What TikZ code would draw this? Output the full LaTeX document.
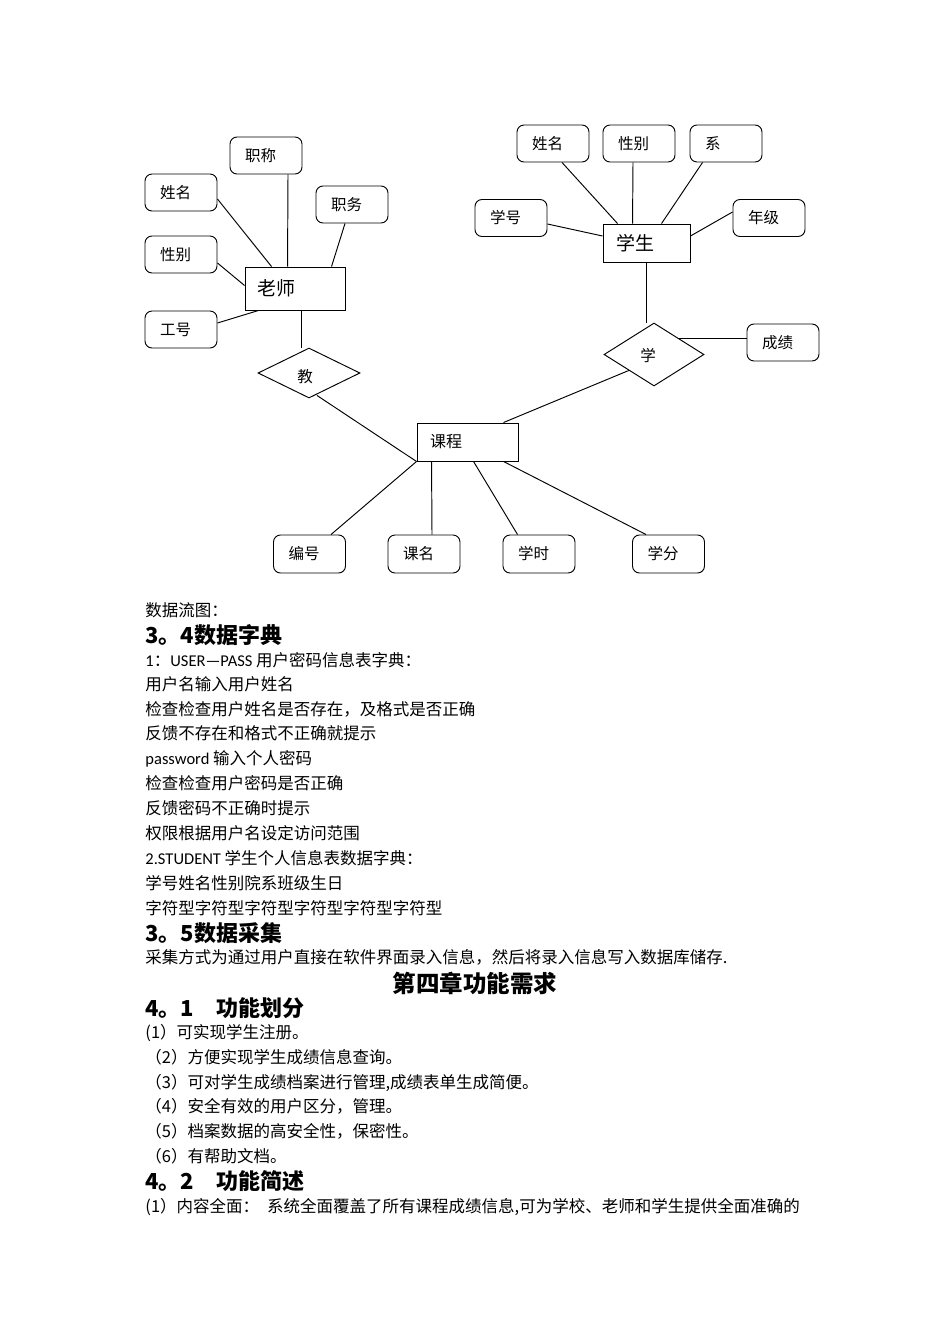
\documentclass[tikz,border=0pt]{standalone}
\usepackage{fontspec}
\setmainfont{Noto Sans CJK SC}
\newfontfamily\lat{Carlito}
\usetikzlibrary{shapes.geometric,calc}
\begin{document}
\begin{tikzpicture}[x=1pt,y=-1pt,line width=0.95pt,
  attr/.style={draw,rounded corners=7pt,minimum height=37,inner xsep=15,inner ysep=0,text width=42,align=left,font=\fontsize{15.5}{18}\selectfont},
  ent/.style={draw,inner ysep=0,align=left,font=\fontsize{19}{22}\selectfont},
  rel/.style={draw,diamond,inner sep=0},
  rellab/.style={font=\fontsize{15.5}{18}\selectfont,inner sep=0},
  body/.style={anchor=base west,inner sep=0,font=\fontsize{16.5}{20}\selectfont},
  head/.style={anchor=base west,inner sep=0,font=\bfseries\fontsize{22}{26}\selectfont}]
\fill[white] (0,0) rectangle (950,1344);
\useasboundingbox (0,0) rectangle (950,1344);

% ---------- teacher ----------
\node[attr] (tzc) at (266,155.5) {职称};
\node[attr] (tname) at (181,192.5) {姓名};
\node[attr] (tzw) at (352,204.5) {职务};
\node[attr] (tsex) at (181,254.5) {性别};
\node[attr] (tid) at (181,329.5) {工号};
\node[ent,minimum height=43,inner xsep=12,text width=76] (teacher) at (295,288.5) {老师};
\node[rel,minimum width=102,minimum height=50,label={[rellab,xshift=-4pt,yshift=-4pt]center:教}] (teach) at (309,373) {};

\draw ($(tname.east)+(0,6.5)$) -- ($(teacher.north west)+(27,0)$);
\draw ($(tzc.south)+(22,0)$) -- ($(teacher.north west)+(43,0)$);
\draw ($(tzw.south)+(-7,0)$) -- ($(teacher.north west)+(87,0)$);
\draw ($(tsex.east)+(0,8.5)$) -- ($(teacher.west)+(0,-3)$);
\draw ($(tid.east)+(0,-6.5)$) -- ($(teacher.south west)+(14,0)$);
\coordinate (tb) at ($(teacher.south west)+(57,0)$);
\draw (tb) -- (tb |- teach.north);

% ---------- student ----------
\node[attr] (sname) at (553,143.5) {姓名};
\node[attr] (ssex) at (639,143.5) {性别};
\node[attr] (sdept) at (726,143.5) {系};
\node[attr] (sid) at (511,218) {学号};
\node[attr] (sgrade) at (769,218) {年级};
\node[ent,minimum height=38,inner xsep=13,text width=61] (student) at (646.5,243) {学生};
\node[rel,minimum width=100,minimum height=63,label={[rellab,xshift=-6pt,yshift=-1.5pt]center:学}] (study) at (654,354.5) {};
\node[attr] (score) at (783,342.5) {成绩};

\draw ($(sname.south)+(9,0)$) -- ($(student.north west)+(15,0)$);
\draw ($(ssex.south)+(-6,0)$) -- ($(student.north west)+(30,0)$);
\draw ($(sdept.south west)+(13,0)$) -- ($(student.north west)+(59,0)$);
\draw ($(sid.east)+(0,6)$) -- ($(student.west)+(0,-7)$);
\draw ($(sgrade.west)+(0,-6)$) -- ($(student.east)+(0,-7)$);
\draw (student.south) -- (student.south |- study.north);
\draw (study.north east) -- (study.north east -| score.west);

% ---------- course ----------
\node[ent,minimum height=38,inner xsep=13,text width=75,font=\fontsize{16}{19}\selectfont] (course) at (467.5,442) {课程};
\node[attr,minimum height=38] (cno) at (309.5,554) {编号};
\node[attr,minimum height=38] (cname) at (424,554) {课名};
\node[attr,minimum height=38] (chour) at (539,554) {学时};
\node[attr,minimum height=38] (credit) at (668.5,554) {学分};

\draw ($(teach.south)+(8,-3)$) -- (course.south west);
\draw (study.south west) -- ($(course.north east)+(-15,0)$);
\draw (course.south west) -- ($(cno.north)+(21.5,0)$);
\draw ($(course.south west)+(15,0)$) -- ($(cname.north)+(8,0)$);
\draw ($(course.south west)+(57,0)$) -- ($(chour.north west)+(15,0)$);
\draw ($(course.south west)+(87,0)$) -- ($(credit.north west)+(14,0)$);

% ---------- text ----------
\node[body] (l01) at (145,616) {数据流图：};
\node[head] (h34) at (145,643.5) {3。4数据字典};
\node[body] (l02) at (145,666) {{\lat 1}：{\lat USER—PASS} 用户密码信息表字典：};
\node[body] (l03) at (145,690.5) {用户名输入用户姓名};
\node[body] (l04) at (145,715) {检查检查用户姓名是否存在，及格式是否正确};
\node[body] (l05) at (145,739.5) {反馈不存在和格式不正确就提示};
\node[body] (l06) at (145,764) {{\lat password} 输入个人密码};
\node[body] (l07) at (145,789) {检查检查用户密码是否正确};
\node[body] (l08) at (145,814) {反馈密码不正确时提示};
\node[body] (l09) at (145,839) {权限根据用户名设定访问范围};
\node[body] (l10) at (145,864) {{\lat 2.STUDENT} 学生个人信息表数据字典：};
\node[body] (l11) at (145,889) {学号姓名性别院系班级生日};
\node[body] (l12) at (145,914) {字符型字符型字符型字符型字符型字符型};
\node[head] (h35) at (145,941) {3。5数据采集};
\node[body] (l13) at (145,963) {采集方式为通过用户直接在软件界面录入信息，然后将录入信息写入数据库储存.};
\node[anchor=base,inner sep=0,font=\bfseries\fontsize{23.5}{28}\selectfont] (ch4) at (475,992) {第四章功能需求};
\node[head] (h41) at (145,1016) {4。1　功能划分};
\node[body] (f1) at (145,1038) {(1）可实现学生注册。};
\node[body] (f2) at (145,1063) {（2）方便实现学生成绩信息查询。};
\node[body] (f3) at (145,1088) {（3）可对学生成绩档案进行管理,成绩表单生成简便。};
\node[body] (f4) at (145,1112) {（4）安全有效的用户区分，管理。};
\node[body] (f5) at (145,1137) {（5）档案数据的高安全性，保密性。};
\node[body] (f6) at (145,1162) {（6）有帮助文档。};
\node[head] (h42) at (145,1189) {4。2　功能简述};
\node[body] (d1) at (145,1212) {(1）内容全面：\hspace{8pt}系统全面覆盖了所有课程成绩信息,可为学校、老师和学生提供全面准确的};
\end{tikzpicture}
\end{document}
